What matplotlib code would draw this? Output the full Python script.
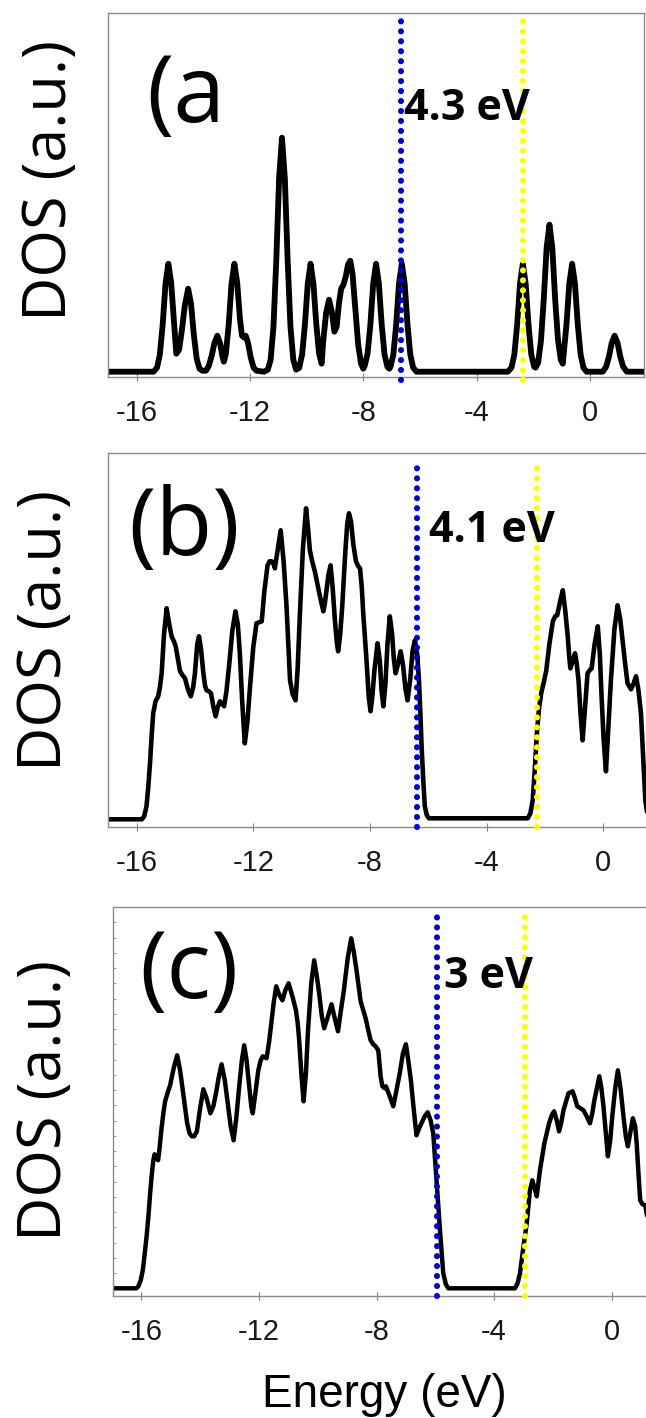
import numpy as np
import matplotlib
matplotlib.use('Agg')
import matplotlib.pyplot as plt

plt.rcParams['axes.unicode_minus'] = False

# DOS traces: (energy in eV, DOS in arbitrary units)
dos_a = [(-17.1, 0), (-15.4, 0), (-15.28, 4), (-15.18, 17), (-15.08, 47), (-14.98, 88), (-14.88, 108),
         (-14.78, 89), (-14.68, 50), (-14.6, 18), (-14.5, 22), (-14.4, 42), (-14.3, 66), (-14.18, 83),
         (-14.08, 68), (-13.98, 37), (-13.88, 13), (-13.78, 3), (-13.68, 1), (-13.55, 1), (-13.45, 6),
         (-13.35, 16), (-13.25, 29), (-13.15, 36), (-13.05, 28), (-12.97, 15), (-12.92, 10), (-12.85, 18),
         (-12.75, 47), (-12.65, 88), (-12.55, 108), (-12.45, 89), (-12.35, 52), (-12.28, 36), (-12.2, 34),
         (-12.15, 36), (-12.07, 29), (-11.97, 14), (-11.87, 4), (-11.77, 1), (-11.5, 0), (-11.37, 2),
         (-11.27, 12), (-11.17, 45), (-11.07, 112), (-10.97, 194), (-10.87, 234), (-10.77, 194),
         (-10.67, 112), (-10.57, 45), (-10.47, 12), (-10.37, 2), (-10.26, 4), (-10.16, 17), (-10.06, 47),
         (-9.96, 88), (-9.86, 108), (-9.76, 88), (-9.66, 48), (-9.56, 18), (-9.47, 8), (-9.41, 32),
         (-9.31, 59), (-9.21, 72), (-9.11, 60), (-9.02, 40), (-8.94, 45), (-8.86, 68), (-8.78, 83),
         (-8.7, 87), (-8.62, 95), (-8.54, 107), (-8.46, 111), (-8.38, 98), (-8.28, 62), (-8.18, 27),
         (-8.08, 8), (-8.0, 3), (-7.95, 6), (-7.85, 18), (-7.75, 47), (-7.65, 88), (-7.55, 108),
         (-7.45, 88), (-7.35, 47), (-7.25, 17), (-7.15, 5), (-7.08, 3), (-7.04, 5), (-6.94, 17),
         (-6.84, 47), (-6.74, 88), (-6.64, 108), (-6.54, 88), (-6.44, 47), (-6.34, 17), (-6.24, 4),
         (-6.12, 0), (-2.9, 0), (-2.77, 4), (-2.67, 17), (-2.57, 47), (-2.47, 88), (-2.37, 108),
         (-2.27, 88), (-2.17, 47), (-2.07, 17), (-1.97, 5), (-1.92, 4), (-1.83, 9), (-1.73, 31),
         (-1.63, 73), (-1.53, 124), (-1.43, 147), (-1.33, 124), (-1.23, 73), (-1.13, 32), (-1.03, 12),
         (-0.96, 8), (-0.93, 17), (-0.83, 47), (-0.73, 88), (-0.63, 108), (-0.53, 88), (-0.43, 47),
         (-0.33, 17), (-0.23, 4), (-0.12, 0), (0.45, 0), (0.57, 5), (0.67, 15), (0.77, 29), (0.87, 36),
         (0.97, 29), (1.07, 15), (1.17, 5), (1.3, 0), (2.1, 0)]

dos_b = [(-17.1, 0), (-15.82, 0), (-15.74, 3), (-15.66, 13), (-15.6, 32), (-15.54, 56), (-15.48, 85),
         (-15.43, 106), (-15.35, 118), (-15.26, 123), (-15.2, 132), (-15.14, 146), (-15.06, 185),
         (-14.97, 211), (-14.88, 195), (-14.8, 183), (-14.72, 178), (-14.66, 173), (-14.58, 160),
         (-14.51, 148), (-14.42, 144), (-14.34, 141), (-14.24, 130), (-14.14, 123), (-14.06, 132),
         (-14.0, 146), (-13.92, 175), (-13.86, 183), (-13.79, 170), (-13.71, 146), (-13.65, 133),
         (-13.6, 129), (-13.52, 128), (-13.45, 126), (-13.37, 113), (-13.29, 103), (-13.22, 112),
         (-13.14, 118), (-13.07, 116), (-13.0, 113), (-12.92, 128), (-12.83, 153), (-12.72, 188),
         (-12.61, 208), (-12.53, 195), (-12.46, 166), (-12.38, 118), (-12.29, 76), (-12.2, 98),
         (-12.11, 133), (-12.0, 172), (-11.89, 196), (-11.8, 197), (-11.71, 198), (-11.62, 228),
         (-11.51, 254), (-11.44, 258), (-11.37, 258), (-11.3, 255), (-11.26, 251), (-11.16, 270),
         (-11.06, 289), (-10.96, 258), (-10.86, 213), (-10.8, 175), (-10.74, 139), (-10.65, 125),
         (-10.55, 119), (-10.48, 150), (-10.4, 206), (-10.3, 270), (-10.19, 311), (-10.12, 290),
         (-10.06, 269), (-9.98, 258), (-9.89, 248), (-9.75, 228), (-9.6, 208), (-9.55, 215),
         (-9.49, 229), (-9.42, 245), (-9.35, 254), (-9.28, 232), (-9.2, 199), (-9.14, 178),
         (-9.09, 168), (-9.02, 185), (-8.95, 213), (-8.85, 265), (-8.78, 295), (-8.72, 306),
         (-8.65, 298), (-8.57, 275), (-8.48, 258), (-8.4, 253), (-8.34, 251), (-8.28, 232),
         (-8.23, 206), (-8.12, 160), (-8.04, 122), (-7.98, 108), (-7.92, 122), (-7.85, 148),
         (-7.74, 176), (-7.66, 158), (-7.6, 128), (-7.54, 113), (-7.47, 135), (-7.4, 175),
         (-7.32, 203), (-7.24, 185), (-7.18, 160), (-7.12, 146), (-7.04, 155), (-6.95, 168),
         (-6.87, 155), (-6.78, 130), (-6.71, 119), (-6.62, 140), (-6.54, 168), (-6.46, 179),
         (-6.38, 165), (-6.32, 139), (-6.27, 105), (-6.23, 73), (-6.17, 38), (-6.12, 13), (-6.05, 4),
         (-5.98, 1), (-2.59, 1), (-2.5, 6), (-2.42, 19), (-2.35, 50), (-2.27, 89), (-2.2, 112),
         (-2.13, 126), (-2.05, 136), (-1.96, 148), (-1.85, 175), (-1.73, 198), (-1.65, 203),
         (-1.58, 204), (-1.48, 218), (-1.39, 229), (-1.31, 210), (-1.22, 183), (-1.17, 163),
         (-1.13, 151), (-1.05, 158), (-0.97, 166), (-0.91, 155), (-0.85, 139), (-0.78, 105),
         (-0.71, 79), (-0.63, 110), (-0.54, 146), (-0.47, 149), (-0.4, 151), (-0.3, 175), (-0.19, 193),
         (-0.12, 165), (-0.06, 123), (0.01, 80), (0.09, 48), (0.17, 90), (0.26, 139), (0.38, 190),
         (0.49, 214), (0.58, 200), (0.66, 179), (0.75, 155), (0.83, 136), (0.95, 130), (1.04, 136),
         (1.12, 143), (1.2, 130), (1.29, 106), (1.37, 60), (1.44, 19), (1.52, 3), (1.7, 0)]

dos_c = [(-17.1, 0), (-16.17, 0), (-16.1, 2), (-16.02, 8), (-15.95, 18), (-15.89, 33), (-15.82, 52),
         (-15.75, 75), (-15.7, 95), (-15.64, 115), (-15.59, 128), (-15.55, 134), (-15.49, 132),
         (-15.43, 128), (-15.38, 140), (-15.32, 158), (-15.25, 175), (-15.19, 187), (-15.1, 196),
         (-15.02, 203), (-14.9, 220), (-14.78, 233), (-14.68, 218), (-14.59, 198), (-14.5, 178),
         (-14.44, 165), (-14.36, 155), (-14.28, 152), (-14.2, 152), (-14.11, 157), (-14.0, 180),
         (-13.89, 199), (-13.78, 190), (-13.65, 175), (-13.55, 182), (-13.46, 195), (-13.36, 212),
         (-13.27, 224), (-13.16, 208), (-13.06, 185), (-12.96, 162), (-12.86, 148), (-12.77, 170),
         (-12.67, 202), (-12.58, 228), (-12.5, 243), (-12.42, 228), (-12.33, 202), (-12.26, 182),
         (-12.21, 175), (-12.12, 195), (-12.02, 218), (-11.94, 228), (-11.87, 232), (-11.8, 231),
         (-11.74, 230), (-11.66, 245), (-11.59, 262), (-11.5, 285), (-11.41, 302), (-11.3, 293),
         (-11.2, 288), (-11.1, 298), (-10.99, 305), (-10.86, 292), (-10.74, 278), (-10.68, 265),
         (-10.63, 248), (-10.55, 212), (-10.48, 187), (-10.4, 215), (-10.33, 258), (-10.22, 305),
         (-10.12, 328), (-10.03, 312), (-9.95, 295), (-9.86, 272), (-9.78, 260), (-9.65, 272),
         (-9.53, 284), (-9.42, 270), (-9.31, 257), (-9.21, 278), (-9.11, 298), (-8.98, 330),
         (-8.86, 350), (-8.77, 336), (-8.68, 318), (-8.6, 300), (-8.54, 287), (-8.45, 278),
         (-8.37, 270), (-8.28, 258), (-8.2, 248), (-8.11, 244), (-8.03, 242), (-7.94, 238),
         (-7.86, 212), (-7.8, 202), (-7.72, 200), (-7.68, 202), (-7.55, 192), (-7.43, 182),
         (-7.32, 198), (-7.21, 215), (-7.1, 235), (-7.0, 244), (-6.92, 228), (-6.83, 208),
         (-6.73, 178), (-6.64, 153), (-6.55, 160), (-6.47, 165), (-6.36, 172), (-6.26, 176),
         (-6.16, 168), (-6.07, 155), (-5.96, 108), (-5.84, 58), (-5.73, 15), (-5.64, 4), (-5.56, 0),
         (-3.29, 0), (-3.2, 5), (-3.12, 15), (-3.0, 42), (-2.89, 65), (-2.78, 98), (-2.7, 108),
         (-2.62, 100), (-2.55, 92), (-2.44, 118), (-2.29, 145), (-2.13, 165), (-2.04, 173),
         (-1.96, 177), (-1.87, 168), (-1.79, 157), (-1.72, 165), (-1.64, 178), (-1.47, 195),
         (-1.33, 197), (-1.25, 190), (-1.17, 182), (-1.06, 180), (-0.96, 178), (-0.85, 172),
         (-0.74, 165), (-0.66, 175), (-0.59, 188), (-0.42, 212), (-0.35, 200), (-0.28, 182),
         (-0.2, 155), (-0.13, 132), (-0.05, 148), (0.02, 172), (0.12, 200), (0.21, 218), (0.3, 200),
         (0.4, 172), (0.48, 152), (0.55, 142), (0.63, 155), (0.72, 170), (0.8, 162), (0.85, 145),
         (0.91, 115), (0.97, 88), (1.05, 84), (1.14, 83), (1.25, 65), (1.35, 30), (1.5, 0)]

# band edges (blue = valence top, yellow = conduction bottom) and gap labels
vbm = [-6.67, -6.40, -5.95]
cbm = [-2.37, -2.28, -2.95]
gap_labels = ['4.3 eV', '4.1 eV', '3 eV']
panel_labels = ['(a', '(b)', '(c)']
xticks = [-16, -12, -8, -4, 0]

W, H = 646, 1418
fig = plt.figure(figsize=(W / 100, H / 100), dpi=100)


def box(l, r, t, b):
    return [l / W, 1 - b / H, (r - l) / W, (b - t) / H]


# layout of each panel in pixels: left, right, top, bottom
boxes = [box(107.7, 644.3, 13.3, 376.7), box(107.7, 650, 453.3, 826.7), box(112.5, 650, 907.3, 1295.5)]
xlims = [(-17.02, 1.917), (-16.99, 1.60), (-16.98, 1.303)]
ylims = [(-5.0, 358.4), (-7.4, 366.0), (-7.2, 381.0)]
dot_ranges = [(-8.3, 351), (-7.4, 360), (-7.7, 376.7)]
curve_lw = [4.2, 3.3, 3.2]
label_pos = [(146, 121.7), (128, 555), (139, 998.3)]
gap_pos = [(404.5, 120), (429, 541.7), (444.5, 988.3)]
dos_pos = [(50, 180), (45, 630), (45, 1100)]

for i, data in enumerate([dos_a, dos_b, dos_c]):
    ax = fig.add_axes(boxes[i])
    e, d = zip(*data)
    ax.plot(e, d, color='black', lw=curve_lw[i], solid_joinstyle='round', solid_capstyle='round', zorder=2)
    for x, col in [(vbm[i], '#0000d8'), (cbm[i], '#ffff00')]:
        ax.plot([x, x], dot_ranges[i], color=col, lw=4.4, linestyle=(0, (0.01, 1.62)),
                dash_capstyle='round', clip_on=False, zorder=3)
    ax.set_xlim(*xlims[i])
    ax.set_ylim(*ylims[i])
    ax.set_xticks(xticks)
    ax.set_xticklabels([str(t) for t in xticks], fontfamily='Liberation Sans')
    ax.tick_params(axis='x', direction='inout', length=6, width=0.8, color='#808080',
                   labelsize=21, pad=13, labelcolor='#1a1a1a')
    if i == 2:
        ax.set_yticks(np.arange(0, 370, 15.25))
        ax.tick_params(axis='y', direction='in', length=2.5, width=0.7, color='#9a9a9a', labelleft=False)
    else:
        ax.set_yticks([])
    for s in ax.spines.values():
        s.set_color('#8c8c8c')
        s.set_linewidth(1.0)

    lx, ly = label_pos[i]
    fig.text(lx / W, 1 - ly / H, panel_labels[i], fontsize=67, fontfamily='Open Sans',
             ha='left', va='baseline')
    gx, gy = gap_pos[i]
    fig.text(gx / W, 1 - gy / H, gap_labels[i], fontsize=31, fontfamily='Open Sans',
             fontweight='bold', ha='left', va='baseline')
    dx, dy = dos_pos[i]
    fig.text(dx / W, 1 - dy / H, 'DOS (a.u.)', fontsize=44, fontfamily='Open Sans',
             rotation=90, ha='center', va='center')

fig.text(384 / W, 1 - 1406.7 / H, 'Energy (eV)', fontsize=33, fontfamily='Liberation Sans',
         ha='center', va='baseline')

fig.savefig('out.png', dpi=100)
